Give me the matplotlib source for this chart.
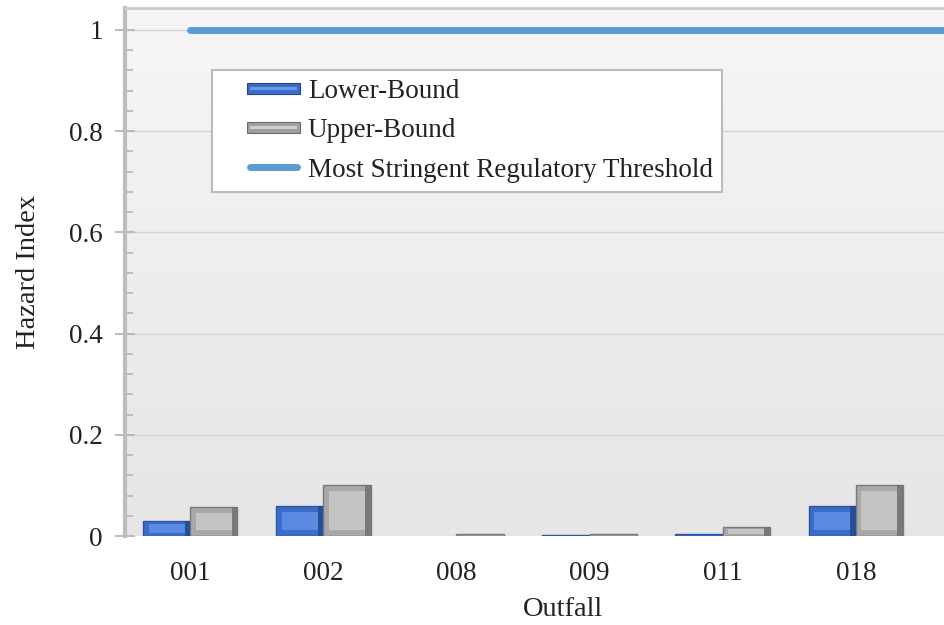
import numpy as np
import matplotlib.pyplot as plt
from matplotlib.patches import Rectangle
from matplotlib.lines import Line2D
from matplotlib.legend_handler import HandlerBase
from matplotlib.colors import LinearSegmentedColormap

outfalls = ["001", "002", "008", "009", "011", "018"]
lower_bound = [0.03, 0.06, 0.0, 0.001, 0.004, 0.06]
upper_bound = [0.057, 0.1, 0.003, 0.003, 0.018, 0.1]
threshold = 1.0

plt.rcParams['font.family'] = ['Liberation Serif', 'DejaVu Serif']
FS = 19.5

W, H = 945, 625
fig = plt.figure(figsize=(W / 100, H / 100), dpi=100)
ax = fig.add_axes([125 / W, (H - 536) / H, (W - 125) / W, (536 - 8) / H])

x = np.arange(len(outfalls))
bw = 0.355
ymin, ymax = 0, 1.043
xmin, xmax = -0.49, 5.67
ax.set_xlim(xmin, xmax)
ax.set_ylim(ymin, ymax)

# soft vertical gradient for the plot area
grad = np.linspace(0, 1, 256).reshape(-1, 1)
ax.imshow(grad, extent=[xmin, xmax, ymin, ymax], aspect='auto', origin='lower',
          cmap=LinearSegmentedColormap.from_list('bg', ['#e6e6e6', '#f6f6f8']),
          zorder=0)

ax.set_yticks(np.arange(0, 1.01, 0.2))
ax.set_yticks(np.arange(0, 1.01, 0.04), minor=True)
ax.yaxis.grid(True, which='major', color='#d4d4d4', linewidth=1.0, zorder=1)
ax.set_yticklabels(['0', '0.2', '0.4', '0.6', '0.8', '1'])
ax.tick_params(axis='y', which='major', direction='inout', length=14, width=1.3,
               color='#b5b5b5', labelsize=FS, labelcolor='#222222', pad=9)
ax.tick_params(axis='y', which='minor', direction='in', length=6, width=1.2,
               color='#b5b5b5')
ax.set_xticks(x)
ax.set_xticklabels(outfalls)
ax.tick_params(axis='x', length=0, labelsize=FS, labelcolor='#222222', pad=18)

for s in ['right', 'bottom']:
    ax.spines[s].set_visible(False)
ax.spines['left'].set_color('#bdbdbd')
ax.spines['left'].set_linewidth(3)
ax.spines['top'].set_color('#cccccc')
ax.spines['top'].set_linewidth(2)


def bevel_bars(xs, vals, base, dark, light, edge):
    for xi, v in zip(xs, vals):
        if v <= 0:
            continue
        ax.add_patch(Rectangle((xi, 0), bw, v, facecolor=base, edgecolor=edge,
                               linewidth=1.0, zorder=3))
        inset_x = bw * 0.12
        inset_y = min(v * 0.22, 0.012)
        if v > 0.01:
            ax.add_patch(Rectangle((xi + inset_x, inset_y), bw - 2 * inset_x,
                                   v - 2 * inset_y, facecolor=light,
                                   edgecolor='none', zorder=4))
            ax.add_patch(Rectangle((xi + bw - inset_x, 0), inset_x, v,
                                   facecolor=dark, edgecolor='none', zorder=4,
                                   alpha=0.8))


bevel_bars(x - bw, lower_bound, '#3a6cc8', '#24478f', '#5b8be0', '#2b55a5')
bevel_bars(x, upper_bound, '#a8a8a8', '#6f6f6f', '#c4c4c4', '#7a7a7a')

ax.plot([0, xmax], [threshold, threshold], color='#5b9bd5', linewidth=5,
        solid_capstyle='round', zorder=5)

ax.set_ylabel('Hazard Index', fontsize=FS + 1, color='#222222', labelpad=20)
fig.text(563 / W, 1 - 610 / H, 'Outfall', fontsize=FS + 1, color='#222222',
         ha='center', va='center')

HANDLE_OFFSET = 19  # px of blank space before each legend key


class BevelHandler(HandlerBase):
    def __init__(self, base, light, dark):
        super().__init__()
        self.base, self.light, self.dark = base, light, dark

    def create_artists(self, legend, orig_handle, xd, yd, width, height, fontsize, trans):
        h = 8
        x0 = xd + HANDLE_OFFSET
        w = width - HANDLE_OFFSET
        y0 = yd + (height - h) / 2
        r1 = Rectangle((x0, y0), w, h, facecolor=self.base, edgecolor=self.dark,
                       linewidth=0.8, transform=trans)
        r2 = Rectangle((x0 + 2, y0 + h * 0.35), w - 4, h * 0.3,
                       facecolor=self.light, edgecolor='none', transform=trans)
        return [r1, r2]


class OffsetLineHandler(HandlerBase):
    def create_artists(self, legend, orig_handle, xd, yd, width, height, fontsize, trans):
        y = yd + height / 2
        ln = Line2D([xd + HANDLE_OFFSET + 2, xd + width - 2], [y, y],
                    color=orig_handle.get_color(), linewidth=orig_handle.get_linewidth(),
                    solid_capstyle='round', transform=trans)
        return [ln]


h_low = Rectangle((0, 0), 1, 1)
h_up = Rectangle((0, 0), 1, 1)
h_thr = Line2D([], [], color='#5b9bd5', linewidth=5)
leg = ax.legend([h_low, h_up, h_thr],
                ['Lower-Bound', 'Upper-Bound', 'Most Stringent Regulatory Threshold'],
                handler_map={h_low: BevelHandler('#3a6cc8', '#6d98e3', '#24478f'),
                             h_up: BevelHandler('#a0a0a0', '#cfcfcf', '#6a6a6a'),
                             h_thr: OffsetLineHandler()},
                loc='upper left', bbox_to_anchor=((212 - 125) / (W - 125), (536 - 70) / 528),
                fontsize=FS, frameon=True, fancybox=False, framealpha=1,
                edgecolor='#bbbbbb', handlelength=2.92, handletextpad=0.3,
                borderpad=0.32, labelspacing=0.54, borderaxespad=0)
leg.get_frame().set_linewidth(1.5)
leg.set_zorder(6)
for t in leg.get_texts():
    t.set_color('#222222')

fig.savefig('out.png', dpi=100)
